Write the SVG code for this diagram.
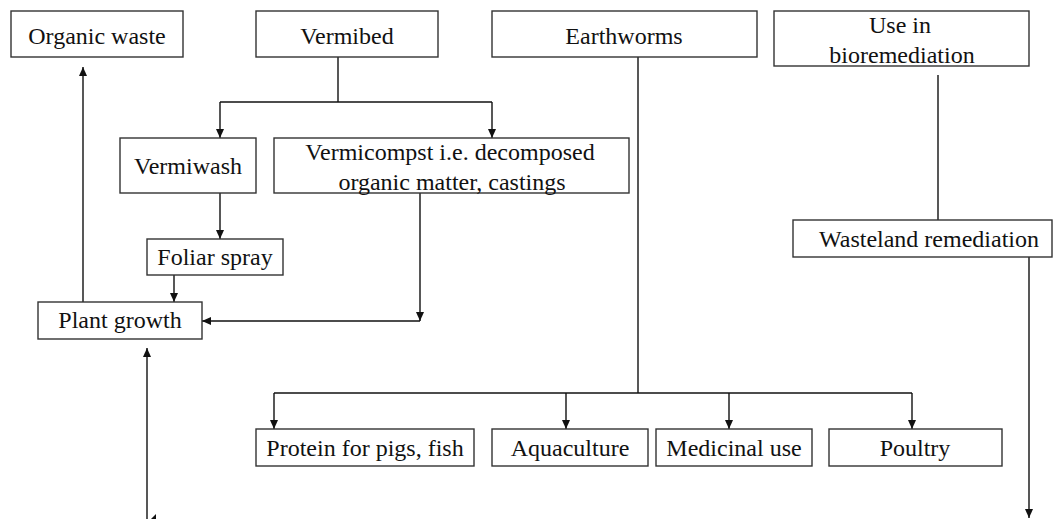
<svg xmlns="http://www.w3.org/2000/svg" width="1054" height="519" viewBox="0 0 1054 519">
<style>
.box{fill:#fff;stroke:#333;stroke-width:1.4}
.t{font-family:"Liberation Serif","Times New Roman",serif;font-size:24px;fill:#111;text-anchor:middle}
.c{fill:none;stroke:#111;stroke-width:1.4}
</style>
<defs>
<marker id="ah" markerWidth="9" markerHeight="8" refX="9" refY="4" orient="auto" markerUnits="userSpaceOnUse">
<path d="M0,0 L9,4 L0,8 Z" fill="#111"/>
</marker>
</defs>
<rect width="1054" height="519" fill="#fff"/>
<g id="connectors">
<path class="c" d="M338,57 V102"/>
<path class="c" d="M220,102 H492"/>
<path class="c" d="M220,102 V138" marker-end="url(#ah)"/>
<path class="c" d="M492,102 V138" marker-end="url(#ah)"/>
<path class="c" d="M220,193 V239" marker-end="url(#ah)"/>
<path class="c" d="M174,275 V302" marker-end="url(#ah)"/>
<path class="c" d="M420,193 V321" marker-end="url(#ah)"/>
<path class="c" d="M420,321 H202" marker-end="url(#ah)"/>
<path class="c" d="M83,302 V67" marker-end="url(#ah)"/>
<path class="c" d="M147,519 V348" marker-end="url(#ah)"/>
<polygon points="151,519 156,514 156,519" fill="#111"/>
<path class="c" d="M638,57 V393"/>
<path class="c" d="M274,393 H912"/>
<path class="c" d="M274,393 V429" marker-end="url(#ah)"/>
<path class="c" d="M566,393 V429" marker-end="url(#ah)"/>
<path class="c" d="M729,393 V429" marker-end="url(#ah)"/>
<path class="c" d="M912,393 V429" marker-end="url(#ah)"/>
<path class="c" d="M938,75 V220"/>
<path class="c" d="M1029,257 V518" marker-end="url(#ah)"/>
</g>
<g id="organic-waste"><rect class="box" x="11" y="11" width="172" height="46"/><text class="t" x="97" y="44">Organic waste</text></g>
<g id="vermibed"><rect class="box" x="256" y="11" width="182" height="46"/><text class="t" x="347" y="44">Vermibed</text></g>
<g id="earthworms"><rect class="box" x="492" y="11" width="265" height="46"/><text class="t" x="624" y="44">Earthworms</text></g>
<g id="bioremediation"><rect class="box" x="774" y="11" width="255" height="55"/><text class="t" x="900" y="33">Use in</text><text class="t" x="902" y="63">bioremediation</text></g>
<g id="vermiwash"><rect class="box" x="120" y="138" width="136" height="55"/><text class="t" x="188" y="174">Vermiwash</text></g>
<g id="vermicompost"><rect class="box" x="274" y="138" width="355" height="55"/><text class="t" x="450" y="160">Vermicompst i.e. decomposed</text><text class="t" x="452" y="190">organic matter, castings</text></g>
<g id="foliar-spray"><rect class="box" x="147" y="239" width="136" height="36"/><text class="t" x="215" y="265">Foliar spray</text></g>
<g id="plant-growth"><rect class="box" x="38" y="302" width="164" height="37"/><text class="t" x="120" y="328">Plant growth</text></g>
<g id="wasteland"><rect class="box" x="793" y="220" width="259" height="37"/><text class="t" x="929" y="247">Wasteland remediation</text></g>
<g id="protein"><rect class="box" x="256" y="429" width="218" height="37"/><text class="t" x="365" y="456">Protein for pigs, fish</text></g>
<g id="aquaculture"><rect class="box" x="492" y="429" width="156" height="37"/><text class="t" x="570" y="456">Aquaculture</text></g>
<g id="medicinal"><rect class="box" x="656" y="429" width="156" height="37"/><text class="t" x="734" y="456">Medicinal use</text></g>
<g id="poultry"><rect class="box" x="829" y="429" width="173" height="37"/><text class="t" x="915" y="456">Poultry</text></g>
</svg>
